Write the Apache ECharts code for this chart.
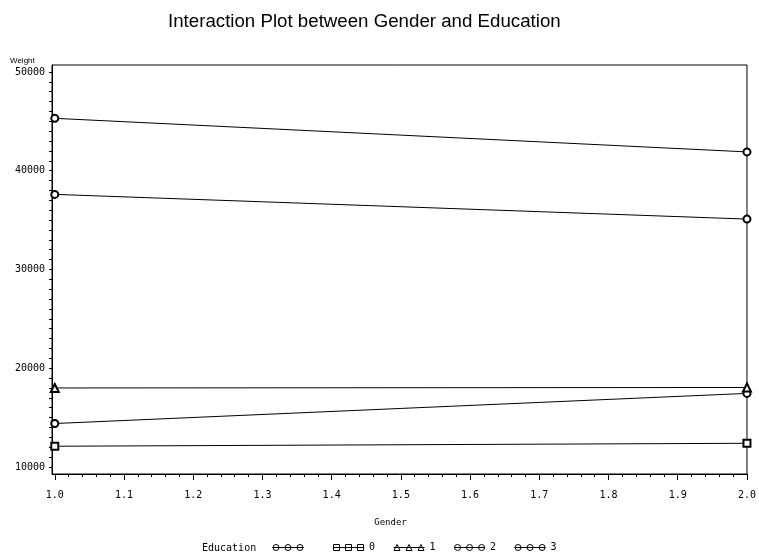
<!DOCTYPE html>
<html>
<head>
<meta charset="utf-8">
<script src="https://cdn.jsdelivr.net/npm/echarts@6/dist/echarts.min.js"></script>
<style>html,body{margin:0;padding:0;background:#fff}#c{width:759px;height:560px}</style>
</head>
<body>
<div id="c"></div>
<script>
// ---- data ----
const genders = [1, 2];
const eduBlank = [14400, 17450];
const edu0 = [12100, 12400];
const edu1 = [18000, 18050];
const edu2 = [37600, 35100];
const edu3 = [45300, 41900];
const seriesNames = [' ', '0', '1', '2', '3'];
const xTickValues = [1.0, 1.1, 1.2, 1.3, 1.4, 1.5, 1.6, 1.7, 1.8, 1.9, 2.0];
const xTickLabels = ['1.0', '1.1', '1.2', '1.3', '1.4', '1.5', '1.6', '1.7', '1.8', '1.9', '2.0'];
const yTickLabels = [10000, 20000, 30000, 40000, 50000];

// minor tick positions
const xMinorTicks = [];
for (let i = 0; i <= 50; i++) xMinorTicks.push(+(1 + i * 0.02).toFixed(2));
const yMinorTicks = [];
for (let v = 10000; v <= 50000; v += 1000) yMinorTicks.push(v);

const toPairs = arr => genders.map((g, i) => [g, arr[i]]);

const circ = (cx) => `M${cx - 3} 3.5 A3 3 0 1 0 ${cx + 3} 3.5 A3 3 0 1 0 ${cx - 3} 3.5 `;
const sq = (cx) => `M${cx - 3} 0.5 L${cx + 3} 0.5 L${cx + 3} 6.5 L${cx - 3} 6.5 Z `;
const tri = (cx) => `M${cx - 3} 6.5 L${cx} 0.5 L${cx + 3} 6.5 Z `;
const line = 'M0 3.5 L31 3.5 ';
const iconCirc = 'path://' + line + circ(3.5) + circ(15.5) + circ(27.5);
const iconSq = 'path://' + line + sq(3.5) + sq(15.5) + sq(27.5);
const iconTri = 'path://' + line + tri(3.5) + tri(15.5) + tri(27.5);
const legendItemStyle = { color: 'transparent', borderColor: '#000', borderWidth: 1 };

const mono = 'DejaVu Sans Mono';

const mk = (name, arr, symbol, size) => ({
  name: name, type: 'line', data: toPairs(arr), xAxisIndex: 0,
  symbol: symbol, symbolSize: size, clip: false,
  lineStyle: { color: '#000', width: 1 },
  itemStyle: { color: '#000', borderWidth: 1 },
  emphasis: { disabled: true }, animation: false
});

const chart = echarts.init(document.getElementById('c'));
chart.setOption({
  backgroundColor: '#fff',
  animation: false,
  title: {
    text: 'Interaction Plot between Gender and Education',
    left: 163, top: 7,
    textStyle: { fontFamily: 'Liberation Sans', fontSize: 18.7, fontWeight: 'normal', color: '#000' }
  },
  graphic: [
    { type: 'text', left: 10, top: 57, style: { text: 'Weight', font: '8px "Liberation Sans"', fill: '#000' } },
    { type: 'text', left: 202, top: 543, style: { text: 'Education', font: '10px "DejaVu Sans Mono"', fill: '#000' } }
  ],
  legend: {
    left: 267, top: 537.5, orient: 'horizontal',
    itemWidth: 31, itemHeight: 7, itemGap: 18,
    selectedMode: false,
    textStyle: { fontFamily: mono, fontSize: 10, color: '#000' },
    data: [
      { name: seriesNames[0], icon: iconCirc, itemStyle: legendItemStyle },
      { name: seriesNames[1], icon: iconSq, itemStyle: legendItemStyle },
      { name: seriesNames[2], icon: iconTri, itemStyle: legendItemStyle },
      { name: seriesNames[3], icon: iconCirc, itemStyle: legendItemStyle },
      { name: seriesNames[4], icon: iconCirc, itemStyle: legendItemStyle }
    ]
  },
  grid: { left: 52, top: 65, width: 696, height: 409, show: true, borderColor: '#000', borderWidth: 1, backgroundColor: 'transparent' },
  xAxis: [
    {
      type: 'value', min: 0.996, max: 2.0, position: 'bottom',
      name: 'Gender', nameLocation: 'middle', nameGap: 44,
      nameTextStyle: { fontFamily: mono, fontSize: 9, color: '#000', padding: [0, 18, 0, 0] },
      axisLine: { show: true, lineStyle: { color: '#000', width: 1 } },
      axisTick: { show: true, length: 6, customValues: xTickValues, lineStyle: { color: '#000' } },
      axisLabel: {
        customValues: xTickValues, margin: 16, color: '#000', fontFamily: mono, fontSize: 10,
        formatter: v => xTickLabels[xTickValues.findIndex(t => Math.abs(t - v) < 1e-6)] || ''
      },
      splitLine: { show: false }
    },
    {
      type: 'value', min: 0.996, max: 2.0, position: 'bottom',
      axisLine: { show: false },
      axisTick: { show: true, length: 3, customValues: xMinorTicks, lineStyle: { color: '#000' } },
      axisLabel: { show: false },
      splitLine: { show: false }
    }
  ],
  yAxis: [
    {
      type: 'value', min: 9290, max: 50700,
      axisLine: { show: true, lineStyle: { color: '#000', width: 1 } },
      axisTick: { show: true, length: 3, customValues: yMinorTicks, lineStyle: { color: '#000' } },
      axisLabel: { customValues: yTickLabels, margin: 7, color: '#000', fontFamily: mono, fontSize: 10, formatter: v => String(v) },
      splitLine: { show: false }
    }
  ],
  series: [
    mk(seriesNames[0], eduBlank, 'emptyCircle', 7),
    mk(seriesNames[1], edu0, 'emptyRect', 7),
    mk(seriesNames[2], edu1, 'emptyTriangle', 8),
    mk(seriesNames[3], edu2, 'emptyCircle', 7),
    mk(seriesNames[4], edu3, 'emptyCircle', 7)
  ]
});
</script>
</body>
</html>
